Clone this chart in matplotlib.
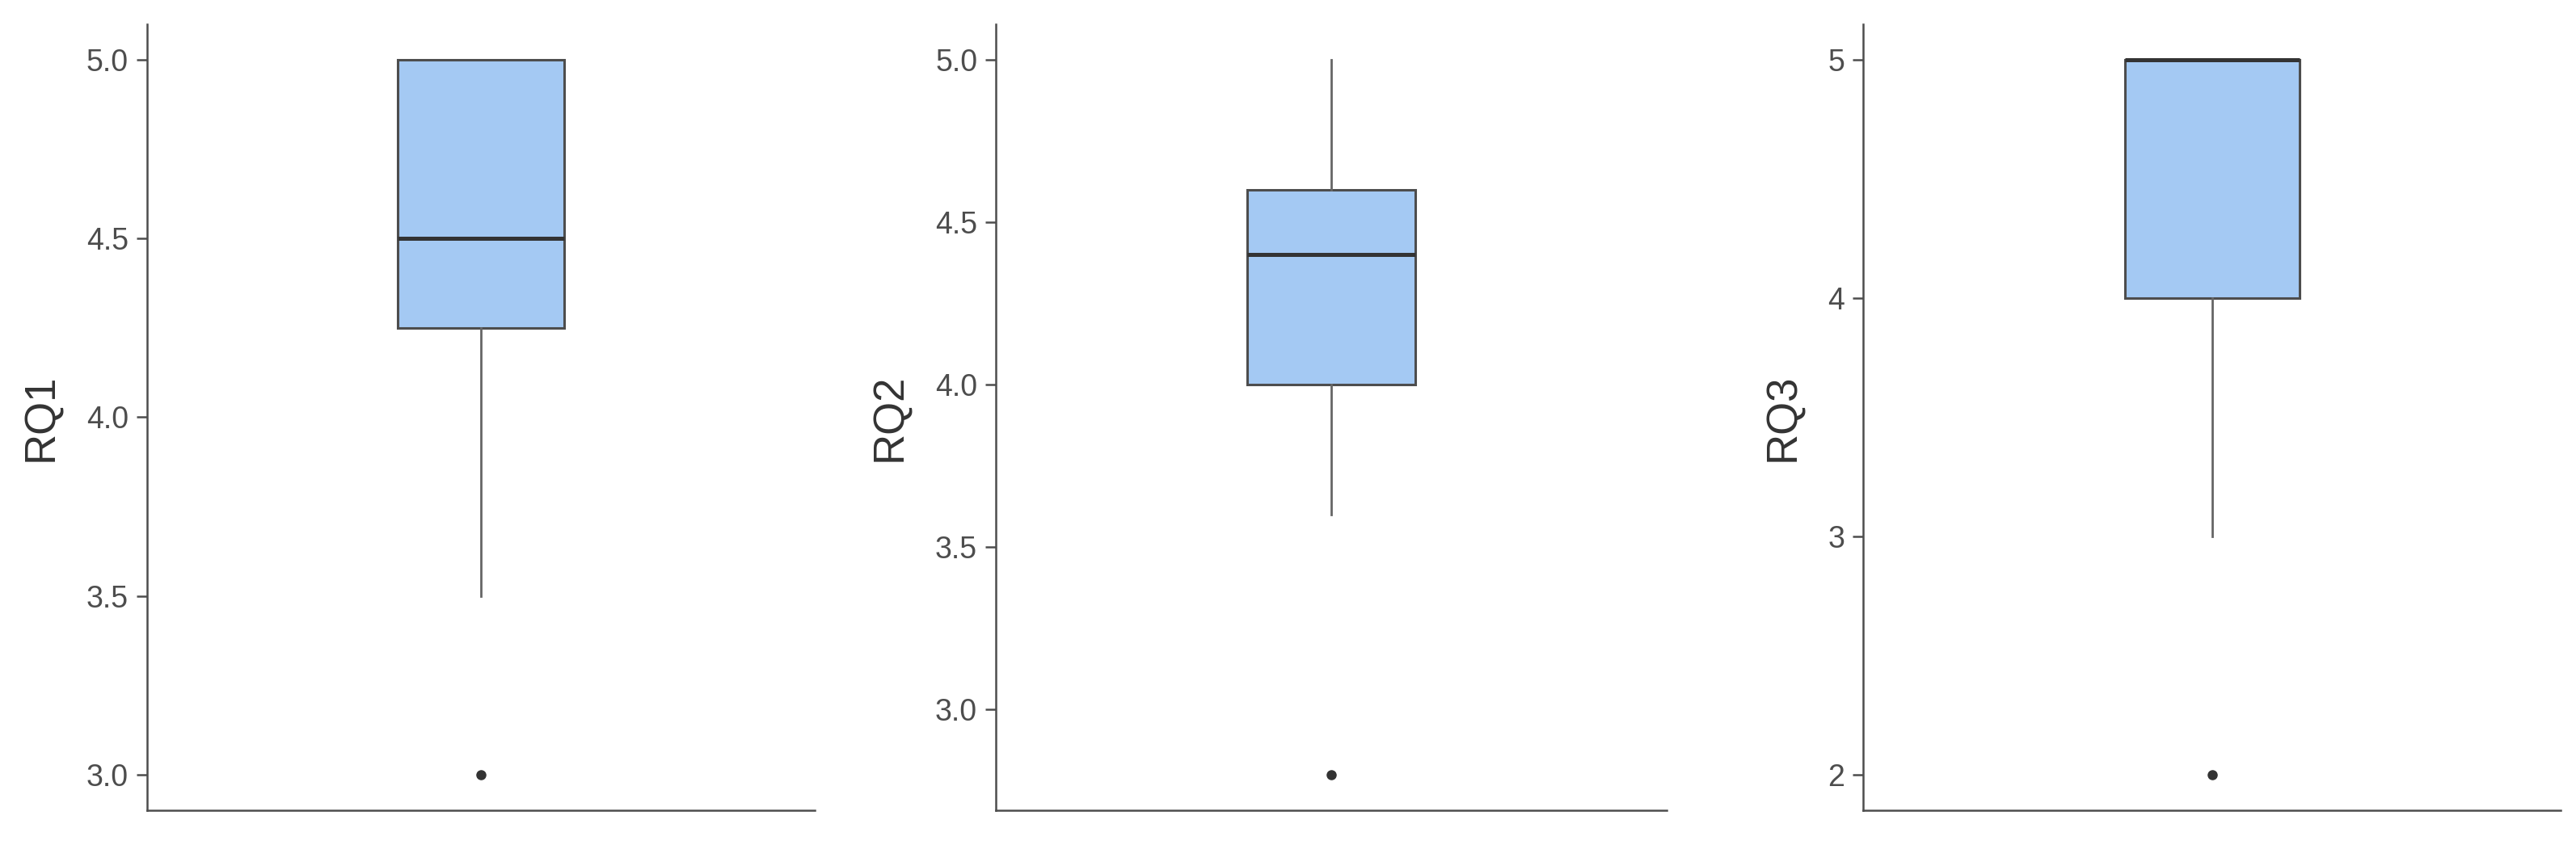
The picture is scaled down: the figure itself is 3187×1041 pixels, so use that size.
import matplotlib.pyplot as plt

# Box statistics: lower whisker, Q1, median, Q3, upper whisker, outliers
labels = ["RQ1", "RQ2", "RQ3"]
whislo = [3.5, 3.6, 3.0]
q1 = [4.25, 4.0, 4.0]
med = [4.5, 4.4, 5.0]
q3 = [5.0, 4.6, 5.0]
whishi = [5.0, 5.0, 5.0]
fliers = [[3.0], [2.8], [2.0]]
ytick_sets = [[3.0, 3.5, 4.0, 4.5, 5.0], [3.0, 3.5, 4.0, 4.5, 5.0], [2, 3, 4, 5]]
ytick_fmt = ["{:.1f}", "{:.1f}", "{:.0f}"]

plt.rcParams['font.family'] = ['Liberation Sans', 'DejaVu Sans']

fig = plt.figure(figsize=(31.87, 10.41), dpi=100)
bottom, height = 0.0365, 0.9347
lefts = [0.0571, 0.3866, 0.7233]
widths = [0.2592, 0.2604, 0.2708]

fill = "#A4C9F3"
edge = "#4D4D4D"
text_col = "#4D4D4D"

for i in range(3):
    ax = fig.add_axes([lefts[i], bottom, widths[i], height])
    stats = [dict(whislo=whislo[i], q1=q1[i], med=med[i], q3=q3[i],
                  whishi=whishi[i], fliers=fliers[i], label=labels[i])]
    ax.bxp(stats, positions=[1], widths=0.3, patch_artist=True, showcaps=False,
           boxprops=dict(facecolor=fill, edgecolor=edge, linewidth=2.2),
           medianprops=dict(color="#333333", linewidth=3.6),
           whiskerprops=dict(color="#666666", linewidth=2.0),
           flierprops=dict(marker='o', markersize=8, markerfacecolor="#333333",
                           markeredgecolor="#333333"))

    lo = min(fliers[i] + [whislo[i]])
    hi = whishi[i]
    pad = (hi - lo) * 0.05
    ax.set_ylim(lo - pad, hi + pad)
    ax.set_xlim(0.4, 1.6)

    ax.set_yticks(ytick_sets[i])
    ax.set_yticklabels([ytick_fmt[i].format(v) for v in ytick_sets[i]])
    ax.set_xticks([])
    ax.tick_params(axis='y', length=9.5, width=1.8, color=edge, pad=7,
                   labelsize=27, labelcolor=text_col)
    ax.set_ylabel(labels[i], fontsize=38, color="#333333", labelpad=22)

    for s in ['top', 'right']:
        ax.spines[s].set_visible(False)
    for s in ['left', 'bottom']:
        ax.spines[s].set_color(edge)
        ax.spines[s].set_linewidth(1.8)

fig.savefig("out.png", dpi=100, facecolor="white")
